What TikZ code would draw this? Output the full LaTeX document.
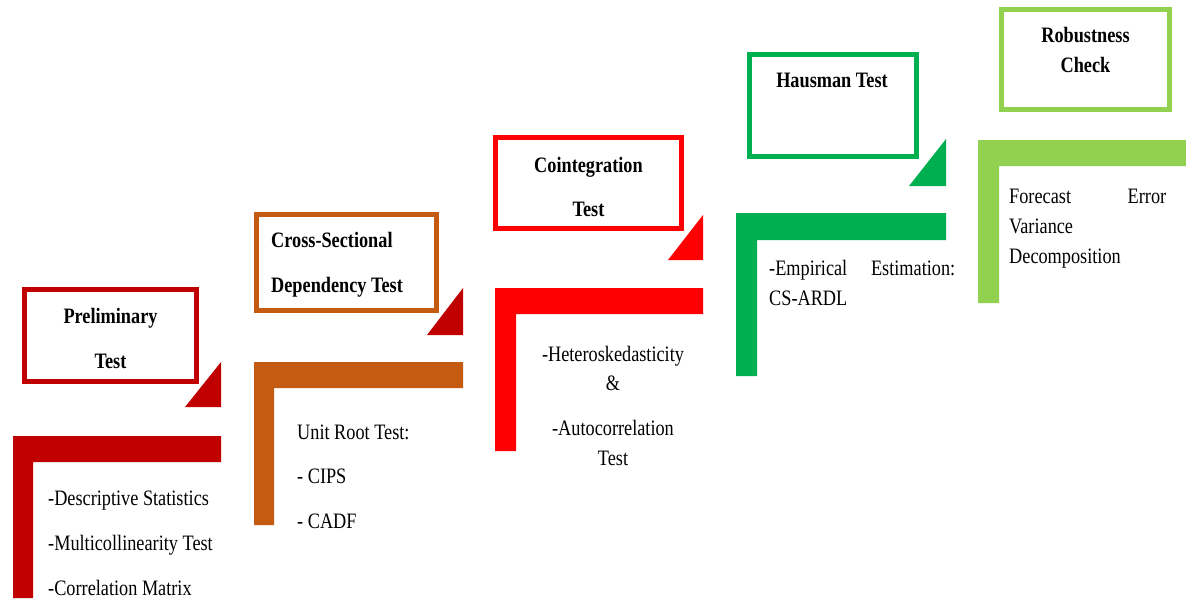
\documentclass[tikz,border=0pt]{standalone}
\usepackage{fontspec}
\setmainfont[FakeStretch=0.83]{Liberation Serif}
\definecolor{stepdarkred}{HTML}{C00000}
\definecolor{steporange}{HTML}{C55A11}
\definecolor{stepred}{HTML}{FF0000}
\definecolor{stepgreen}{HTML}{00B050}
\definecolor{steplime}{HTML}{92D050}
\tikzset{
  titlebox/.style={draw=#1, line width=5pt, inner sep=0pt},
  stepbar/.style={fill=#1},
  steptri/.style={fill=#1},
  titletext/.style={font=\fontsize{22}{26}\selectfont\bfseries, inner sep=0pt},
  bodytext/.style={font=\fontsize{22}{26}\selectfont, inner sep=0pt},
}
\begin{document}
\begin{tikzpicture}[x=1pt,y=-1pt]
\useasboundingbox (0,0) rectangle (1186,600);

% title boxes
\node[titlebox=stepdarkred, minimum width=172pt, minimum height=92pt] (box1) at (110.5,335.5) {};
\node[titlebox=steporange, minimum width=180pt, minimum height=96pt] (box2) at (346.5,262.5) {};
\node[titlebox=stepred, minimum width=186pt, minimum height=91pt] (box3) at (588.5,183) {};
\node[titlebox=stepgreen, minimum width=167pt, minimum height=102pt] (box4) at (833,105.5) {};
\node[titlebox=steplime, minimum width=168pt, minimum height=100pt] (box5) at (1085.5,59.5) {};

% triangles
\path[steptri=stepdarkred] (185,407) -- (221,407) -- (221,362) -- cycle;
\path[steptri=stepdarkred] (427,335) -- (463,335) -- (463,288) -- cycle;
\path[steptri=stepred] (668,260) -- (703,260) -- (703,215) -- cycle;
\path[steptri=stepgreen] (909,186) -- (946,186) -- (946,139) -- cycle;

% bars
\path[stepbar=stepdarkred] (13,436) -- (221,436) -- (221,462) -- (33,462) -- (33,598) -- (13,598) -- cycle;
\path[stepbar=steporange] (254,362) -- (463,362) -- (463,388) -- (274,388) -- (274,525) -- (254,525) -- cycle;
\path[stepbar=stepred] (495,288) -- (703,288) -- (703,314) -- (516,314) -- (516,451) -- (495,451) -- cycle;
\path[stepbar=stepgreen] (736,213) -- (946,213) -- (946,240) -- (757,240) -- (757,376) -- (736,376) -- cycle;
\path[stepbar=steplime] (978,140) -- (1186,140) -- (1186,166) -- (999,166) -- (999,303) -- (978,303) -- cycle;

% titles
\node[titletext, anchor=base] (t1a) at (110.5,323) {Preliminary};
\node[titletext, anchor=base] (t1b) at (110.5,368) {Test};
\node[titletext, anchor=base west] (t2a) at (271,247) {Cross-Sectional};
\node[titletext, anchor=base west] (t2b) at (271,292) {Dependency Test};
\node[titletext, anchor=base] (t3a) at (588.5,172) {Cointegration};
\node[titletext, anchor=base] (t3b) at (588.5,216) {Test};
\node[titletext, anchor=base] (t4a) at (832,87) {Hausman Test};
\node[titletext, anchor=base] (t5a) at (1085.5,42) {Robustness};
\node[titletext, anchor=base] (t5b) at (1085.5,72) {Check};

% texts
\node[bodytext, anchor=base west] (b1a) at (48,505) {-Descriptive Statistics};
\node[bodytext, anchor=base west] (b1b) at (48,550) {-Multicollinearity Test};
\node[bodytext, anchor=base west] (b1c) at (48,595) {-Correlation Matrix};
\node[bodytext, anchor=base west] (b2a) at (297,439) {Unit Root Test:};
\node[bodytext, anchor=base west] (b2b) at (297,483) {- CIPS};
\node[bodytext, anchor=base west] (b2c) at (297,528) {- CADF};
\node[bodytext, anchor=base] (b3a) at (613,361) {-Heteroskedasticity};
\node[bodytext, anchor=base] (b3b) at (613,390) {\&};
\node[bodytext, anchor=base] (b3c) at (613,435) {-Autocorrelation};
\node[bodytext, anchor=base] (b3d) at (613,465) {Test};
\node[bodytext, anchor=base west] (b4a) at (769,275) {\makebox[186pt][s]{-Empirical Estimation:}};
\node[bodytext, anchor=base west] (b4b) at (769,305) {CS-ARDL};
\node[bodytext, anchor=base west] (b5a) at (1009,203) {\makebox[157pt][s]{Forecast Error}};
\node[bodytext, anchor=base west] (b5b) at (1009,233) {Variance};
\node[bodytext, anchor=base west] (b5c) at (1009,263) {Decomposition};
\end{tikzpicture}
\end{document}
